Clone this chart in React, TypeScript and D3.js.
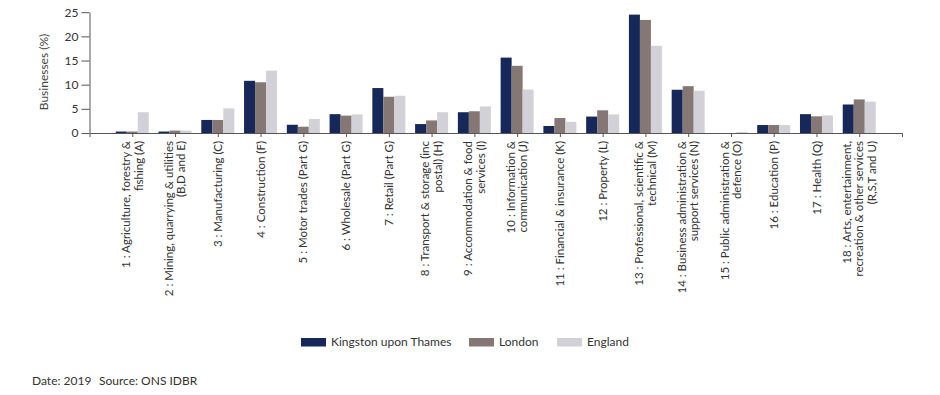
import { useEffect, useRef } from "react";
import { select, scaleLinear, scalePoint, scaleBand, axisLeft, axisBottom } from "d3";

const WIDTH = 940;
const HEIGHT = 395;

// industry labels, pre-wrapped the way the source chart breaks them
const CATEGORIES = [
  ["1 : Agriculture, forestry &", "fishing (A)"],
  ["2 : Mining, quarrying & utilities", "(B,D and E)"],
  ["3 : Manufacturing (C)"],
  ["4 : Construction (F)"],
  ["5 : Motor trades (Part G)"],
  ["6 : Wholesale (Part G)"],
  ["7 : Retail (Part G)"],
  ["8 : Transport & storage (inc", "postal) (H)"],
  ["9 : Accommodation & food", "services (I)"],
  ["10 : Information &", "communication (J)"],
  ["11 : Financial & insurance (K)"],
  ["12 : Property (L)"],
  ["13 : Professional, scientific &", "technical (M)"],
  ["14 : Business administration &", "support services (N)"],
  ["15 : Public administration &", "defence (O)"],
  ["16 : Education (P)"],
  ["17 : Health (Q)"],
  ["18 : Arts, entertainment,", "recreation & other services", "(R,S,T and U)"],
];

const SERIES = ["Kingston upon Thames", "London", "England"];
const COLORS = ["#16275a", "#857774", "#d2d1d7"];

const KINGSTON = [0.3, 0.3, 2.7, 10.8, 1.7, 3.9, 9.3, 1.85, 4.3, 15.6, 1.45, 3.4, 24.5, 8.95, 0, 1.65, 3.9, 5.9];
const LONDON = [0.3, 0.5, 2.7, 10.5, 1.3, 3.6, 7.5, 2.6, 4.5, 13.9, 3.1, 4.7, 23.4, 9.7, 0, 1.65, 3.45, 6.95];
const ENGLAND = [4.3, 0.5, 5.1, 12.9, 2.9, 3.85, 7.7, 4.3, 5.5, 9.0, 2.3, 3.85, 18.05, 8.75, 0.2, 1.65, 3.65, 6.5];

const Y_TICKS = [0, 5, 10, 15, 20, 25];

const FONT = "Lato, 'Open Sans', sans-serif";
const TEXT = "#333333";
const AXIS = "#555555";

export default function App() {
  const svgRef = useRef<SVGSVGElement>(null);

  useEffect(() => {
    const svg = select(svgRef.current);
    svg.selectAll("*").remove();
    svg.attr("font-family", FONT);

    const values = [KINGSTON, LONDON, ENGLAND];
    const idx = CATEGORIES.map((_, i) => i);

    const x = scalePoint<number>().domain(idx).range([89.5, 902]).padding(1);
    const inner = scaleBand().domain(SERIES).range([-16.5, 16.5]).padding(0);
    const y = scaleLinear().domain([0, 25]).range([133, 12.2]);

    // bars
    SERIES.forEach((s, si) => {
      svg
        .append("g")
        .selectAll("rect")
        .data(values[si])
        .join("rect")
        .attr("x", (_, i) => (x(i) ?? 0) + (inner(s) ?? 0))
        .attr("y", (d) => y(d))
        .attr("width", inner.bandwidth())
        .attr("height", (d) => y(0) - y(d))
        .attr("fill", COLORS[si]);
    });

    // y axis
    const gy = svg
      .append("g")
      .attr("transform", `translate(89.5,0)`)
      .call(axisLeft(y).tickValues(Y_TICKS).tickSize(8).tickSizeOuter(0).tickPadding(3));
    gy.selectAll("path, line").attr("stroke", AXIS);
    gy.selectAll("text").attr("font-size", "12px").attr("fill", TEXT).attr("font-family", FONT);

    // x axis
    const gx = svg
      .append("g")
      .attr("transform", `translate(0,${y(0)})`)
      .call(axisBottom(x).tickSize(4).tickSizeOuter(4).tickFormat(() => ""));
    gx.selectAll("path, line").attr("stroke", AXIS);

    // category labels, rotated
    CATEGORIES.forEach((lines, i) => {
      const cx = x(i) ?? 0;
      const t = svg
        .append("text")
        .attr("transform", `translate(${cx},141) rotate(-90)`)
        .attr("text-anchor", "end")
        .attr("font-size", "11.5px")
        .attr("fill", TEXT);
      lines.forEach((ln, li) => {
        const off = (li - (lines.length - 1) / 2) * 12.5;
        t.append("tspan")
          .attr("x", 0)
          .attr("y", off)
          .attr("dy", "0.35em")
          .text(ln);
      });
    });

    // y axis title
    svg
      .append("text")
      .attr("transform", `translate(44,72) rotate(-90)`)
      .attr("text-anchor", "middle")
      .attr("dy", "0.35em")
      .attr("font-size", "12px")
      .attr("fill", "#444444")
      .text("Businesses (%)");

    // legend
    const legendX = [301, 469, 557];
    SERIES.forEach((s, si) => {
      const g = svg.append("g").attr("transform", `translate(${legendX[si]},338)`);
      g.append("rect").attr("width", 25).attr("height", 8.5).attr("fill", COLORS[si]);
      g.append("text")
        .attr("x", 30)
        .attr("y", 4.2)
        .attr("dy", "0.35em")
        .attr("font-size", "12px")
        .attr("fill", TEXT)
        .text(s);
    });

    // footer
    const foot = svg
      .append("text")
      .attr("y", 381)
      .attr("dy", "0.35em")
      .attr("font-size", "12px")
      .attr("fill", TEXT);
    foot.append("tspan").attr("x", 32).text("Date: 2019");
    foot.append("tspan").attr("x", 99).text("Source: ONS IDBR");
  }, []);

  return (
    <svg
      ref={svgRef}
      width={WIDTH}
      height={HEIGHT}
      style={{ position: "absolute", left: 0, top: 0, background: "#fff" }}
    />
  );
}
